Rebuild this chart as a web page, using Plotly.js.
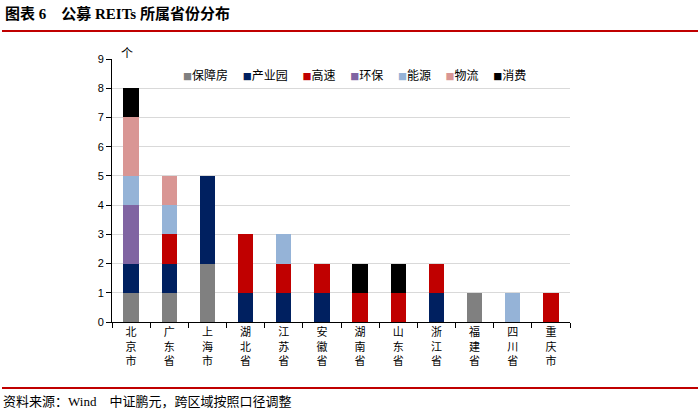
<!DOCTYPE html>
<html><head><meta charset="utf-8">
<script src="https://cdn.plot.ly/plotly-3.0.1.min.js"></script>
<style>body{margin:0;background:#fff}#c{width:700px;height:413px}</style>
</head><body><div id="c"></div>
<script>
const categories = ['北京市','广东省','上海市','湖北省','江苏省','安徽省','湖南省','山东省','浙江省','福建省','四川省','重庆市'];
const seriesNames = ['保障房','产业园','高速','环保','能源','物流','消费'];
const seriesColors = ['#808080','#002060','#C00000','#8064A2','#95B3D7','#D99694','#000000'];
const baozhangfang = [1,1,2,0,0,0,0,0,0,1,0,0];
const chanyeyuan   = [1,1,3,1,1,1,0,0,1,0,0,0];
const gaosu        = [0,1,0,2,1,1,1,1,1,0,0,1];
const huanbao      = [2,0,0,0,0,0,0,0,0,0,0,0];
const nengyuan     = [1,1,0,0,1,0,0,0,0,0,1,0];
const wuliu        = [2,1,0,0,0,0,0,0,0,0,0,0];
const xiaofei      = [1,0,0,0,0,0,1,1,0,0,0,0];
const seriesValues = [baozhangfang,chanyeyuan,gaosu,huanbao,nengyuan,wuliu,xiaofei];
const yTicks = [0,1,2,3,4,5,6,7,8,9];

const xLabels = categories.map(c => c.split('').join('<br>'));
const traces = seriesNames.map((n,i) => ({
  type:'bar', name:n, x:xLabels, y:seriesValues[i].map(v => v===0?null:v),
  marker:{color:seriesColors[i], line:{width:0}}, showlegend:false, hoverinfo:'skip'
}));

const W=700,H=413,L=112,R=570,T=59,B=322;
const px = x => (x-L)/(R-L), py = y => (B-y)/(B-T);
const cjk = '"Noto Sans CJK SC", "Noto Sans", sans-serif';
const legendText = seriesNames.map((n,i)=>`<span style="color:${seriesColors[i]};font-size:9px">■</span>${n}`).join('　 ');

const layout = {
  width:W, height:H, paper_bgcolor:'#fff', plot_bgcolor:'#fff',
  margin:{l:L, r:W-R, t:T, b:H-B, pad:0},
  barmode:'stack', bargap:0.6,
  font:{family:cjk, size:11, color:'#000'},
  xaxis:{type:'category', showline:true, linecolor:'#000', linewidth:1, ticks:'outside', ticklen:5, tickcolor:'#000',
         tickson:'boundaries', showgrid:false, tickfont:{size:11, family:cjk}, fixedrange:true},
  yaxis:{range:[0,9], tickvals:yTicks, showline:true, linecolor:'#000', linewidth:1, ticks:'outside', ticklen:5, tickcolor:'#000',
         gridcolor:'#d9d9d9', gridwidth:1, zeroline:false, tickfont:{size:11, family:'Liberation Sans, Arial, sans-serif'}},
  shapes:[
    {type:'line', xref:'paper', yref:'paper', x0:px(2), x1:px(698), y0:py(31), y1:py(31), line:{color:'#C00000', width:2}},
    {type:'line', xref:'paper', yref:'paper', x0:px(2), x1:px(698), y0:py(388), y1:py(388), line:{color:'#C00000', width:2}}
  ],
  annotations:[
    {xref:'paper', yref:'paper', x:px(3), y:py(14), xanchor:'left', yanchor:'middle', showarrow:false,
     text:'<b>图表 6　公募 REITs 所属省份分布</b>', font:{family:'"Liberation Serif", "Noto Sans CJK SC", serif', size:15, color:'#000'}},
    {xref:'paper', yref:'paper', x:px(1), y:py(400), xanchor:'left', yanchor:'middle', showarrow:false,
     text:'资料来源：<span style="font-family:Liberation Serif">Wind</span>　中证鹏元，跨区域按照口径调整', font:{family:cjk, size:13, color:'#000'}},
    {xref:'paper', yref:'paper', x:px(127), y:py(52), xanchor:'center', yanchor:'middle', showarrow:false,
     text:'个', font:{family:cjk, size:12, color:'#000'}},
    {xref:'paper', yref:'paper', x:px(181), y:py(75), xanchor:'left', yanchor:'middle', showarrow:false,
     text:legendText, font:{family:cjk, size:12, color:'#000'}}
  ]
};
Plotly.newPlot('c', traces, layout, {displayModeBar:false, staticPlot:true});
</script></body></html>
